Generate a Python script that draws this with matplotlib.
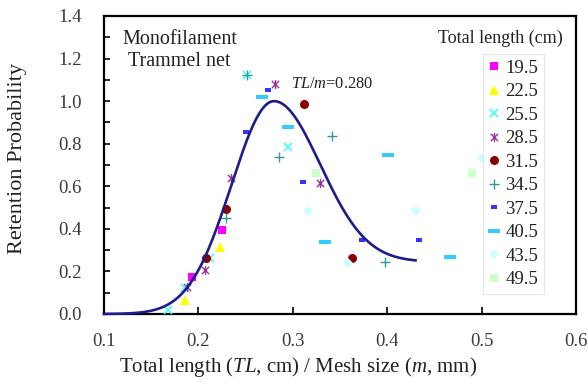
import numpy as np
import matplotlib
matplotlib.use("Agg")
import matplotlib.pyplot as plt
from matplotlib.path import Path
from matplotlib.ticker import MultipleLocator, FormatStrFormatter

plt.rcParams["font.family"] = ["Liberation Serif", "DejaVu Serif"]
plt.rcParams["mathtext.fontset"] = "custom"
plt.rcParams["mathtext.rm"] = "Liberation Serif"
plt.rcParams["mathtext.it"] = "Liberation Serif:italic"

# Observed retention probability by total-length class (TL/m, probability)
length_classes = ["19.5", "22.5", "25.5", "28.5", "31.5", "34.5", "37.5", "40.5", "43.5", "49.5"]

x_195 = [0.193, 0.225]
y_195 = [0.175, 0.393]
x_225 = [0.186, 0.223]
y_225 = [0.066, 0.316]
x_255 = [0.168, 0.186, 0.212, 0.295, 0.251]
y_255 = [0.018, 0.121, 0.262, 0.786, 1.122]
x_285 = [0.188, 0.207, 0.235, 0.281, 0.329]
y_285 = [0.128, 0.205, 0.641, 1.082, 0.615]
x_315 = [0.208, 0.229, 0.312, 0.363]
y_315 = [0.265, 0.492, 0.985, 0.263]
x_345 = [0.229, 0.251, 0.285, 0.341, 0.398]
y_345 = [0.452, 1.122, 0.736, 0.838, 0.245]
x_375 = [0.250, 0.274, 0.311, 0.373, 0.434]
y_375 = [0.856, 1.052, 0.621, 0.348, 0.348]
x_405 = [0.267, 0.295, 0.334, 0.401, 0.466]
y_405 = [1.018, 0.880, 0.337, 0.747, 0.269]
x_435 = [0.316, 0.359, 0.430, 0.500]
y_435 = [0.484, 0.240, 0.484, 0.731]
x_495 = [0.325, 0.490]
y_495 = [0.661, 0.663]

# Fitted selectivity curve: asymmetric normal around the mode with a right-hand plateau
MODE = 0.280
SIGMA_LEFT = 0.045
SIGMA_RIGHT = 0.049
PLATEAU = 0.245
CURVE_START, CURVE_END = 0.10, 0.43

# Marker shapes
asterisk = Path([(-1, -1), (1, 1), (-1, 1), (1, -1), (0, -1.25), (0, 1.25)],
                [Path.MOVETO, Path.LINETO] * 3)
short_dash = Path([(-1, -0.5), (1, -0.5), (1, 0.5), (-1, 0.5), (-1, -0.5)],
                  [Path.MOVETO, Path.LINETO, Path.LINETO, Path.LINETO, Path.CLOSEPOLY])
long_dash = Path([(-1, -0.27), (1, -0.27), (1, 0.27), (-1, 0.27), (-1, -0.27)],
                 [Path.MOVETO, Path.LINETO, Path.LINETO, Path.LINETO, Path.CLOSEPOLY])

styles = [
    dict(marker="s", ms=6.0, mfc="#ff00ff", mec="#ff00ff", mew=0),
    dict(marker="^", ms=6.5, mfc="#ffff00", mec="#ffff00", mew=0),
    dict(marker="x", ms=5.5, mfc="none", mec="#33ffff", mew=1.1),
    dict(marker=asterisk, ms=6.5, mfc="none", mec="#993399", mew=1.0),
    dict(marker="o", ms=6.5, mfc="#8b0000", mec="#8b0000", mew=0),
    dict(marker="+", ms=7.0, mfc="none", mec="#339999", mew=1.0),
    dict(marker=short_dash, ms=4.5, mfc="#3333ff", mec="#3333ff", mew=0),
    dict(marker=long_dash, ms=8.5, mfc="#33ccff", mec="#33ccff", mew=0),
    dict(marker="D", ms=5.0, mfc="#ccffff", mec="#ccffff", mew=0),
    dict(marker="s", ms=6.0, mfc="#ccffcc", mec="#ccffcc", mew=0),
]
series = [(x_195, y_195), (x_225, y_225), (x_255, y_255), (x_285, y_285), (x_315, y_315),
          (x_345, y_345), (x_375, y_375), (x_405, y_405), (x_435, y_435), (x_495, y_495)]

fig = plt.figure(figsize=(5.88, 3.87), dpi=100)
ax = fig.add_axes([104 / 588, 73 / 387, 472 / 588, 298 / 387])

handles = []
for label, (xs, ys), st in zip(length_classes, series, styles):
    h, = ax.plot(xs, ys, linestyle="none", label=label, zorder=3, **st)
    handles.append(h)

xc = np.linspace(CURVE_START, CURVE_END, 500)
left = np.exp(-(xc - MODE) ** 2 / (2 * SIGMA_LEFT ** 2))
right = PLATEAU + (1 - PLATEAU) * np.exp(-(xc - MODE) ** 2 / (2 * SIGMA_RIGHT ** 2))
yc = np.where(xc <= MODE, left, right)
ax.plot(xc, yc, color="#1c1c8a", lw=1.9, zorder=4, clip_on=False)

ax.set_xlim(0.1, 0.6)
ax.set_ylim(0.0, 1.4)
ax.xaxis.set_major_locator(MultipleLocator(0.1))
ax.xaxis.set_major_formatter(FormatStrFormatter("%.1f"))
ax.yaxis.set_major_locator(MultipleLocator(0.2))
ax.yaxis.set_minor_locator(MultipleLocator(0.1))
ax.yaxis.set_major_formatter(FormatStrFormatter("%.1f"))

ax.tick_params(axis="both", which="both", direction="in", colors="black",
               labelcolor="#3a3a3a", labelsize=13.5, width=1.2)
ax.tick_params(axis="x", length=5, pad=14)
ax.tick_params(axis="y", which="major", length=4, pad=16)
ax.tick_params(axis="y", which="minor", length=4)
for sp in ax.spines.values():
    sp.set_linewidth(1.6)
    sp.set_color("black")

fig.text(298 / 588, 1 - 367 / 387, r"Total length ($TL$, cm) / Mesh size ($m$, mm)",
         ha="center", va="center", fontsize=15, color="#222222")
fig.text(17.5 / 588, 1 - 158 / 387, "Retention Probability", rotation=90,
         ha="center", va="center", fontsize=16, color="#222222")

ax.text(0.180, 1.29, "Monofilament", ha="center", va="center", fontsize=14.5, color="#222222")
ax.text(0.180, 1.185, "Trammel net", ha="center", va="center", fontsize=14.5, color="#222222")
ax.text(0.298, 1.080, r"$TL/m$=0.280", ha="left", va="center", fontsize=11.8, color="#222222")

fig.text(563 / 588, 1 - 38 / 387, "Total length (cm)", ha="right", va="center",
         fontsize=13, color="#222222")

leg = ax.legend(handles=handles, loc="upper left", bbox_to_anchor=(483 / 588, 1 - 54 / 387),
                bbox_transform=fig.transFigure, borderaxespad=0, frameon=True, fancybox=False,
                fontsize=13.5, numpoints=1, handlelength=0.6, handletextpad=0.3,
                labelspacing=0.34, borderpad=0.3)
leg.get_frame().set_edgecolor("#e0e0e0")
leg.get_frame().set_linewidth(0.8)
leg.set_zorder(10)
for t in leg.get_texts():
    t.set_color("#222222")

fig.savefig("out.png", dpi=100)
